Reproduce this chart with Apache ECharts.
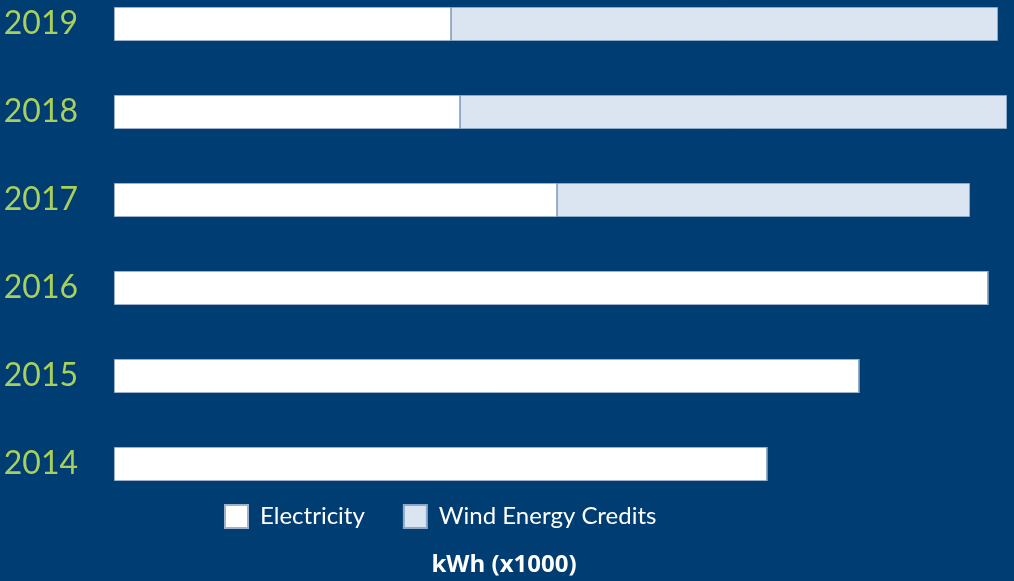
<!DOCTYPE html>
<html>
<head>
<meta charset="utf-8">
<script src="https://cdn.jsdelivr.net/npm/echarts@6/dist/echarts.min.js"></script>
<style>
  html, body { margin: 0; padding: 0; background: #003d73; overflow: hidden; }
  #chart { width: 1014px; height: 601px; margin-top: -20px; }
</style>
</head>
<body>
<div id="chart"></div>
<script>
// years, bottom to top
var years = ['2014', '2015', '2016', '2017', '2018', '2019'];
// kWh (x1000)
var electricity = [2612, 2980, 3496, 1772, 1384, 1348];
var windCredits = [0, 0, 0, 1652, 2188, 2188];

var chart = echarts.init(document.getElementById('chart'));

// the div is shifted up 20px so the top bar sits close to the edge
var option = {
    backgroundColor: '#003d73',
    textStyle: { fontFamily: 'Lato, "Open Sans", sans-serif' },
    title: {
        text: 'kWh (x1000)',
        left: 499,
        textAlign: 'center',
        top: 568,
        textStyle: { color: '#ffffff', fontSize: 24, fontWeight: 'bold', fontFamily: '"Open Sans", sans-serif' }
    },
    legend: {
        left: 219,
        top: 519,
        itemWidth: 23,
        itemHeight: 23,
        itemGap: 38,
        textStyle: { color: '#ffffff', fontSize: 24, padding: [0, 0, 0, 7] },
        data: [
            { name: 'Electricity', icon: 'rect' },
            { name: 'Wind Energy Credits', icon: 'rect' }
        ]
    },
    grid: { left: 114, right: 7, top: 0, bottom: 73 },
    xAxis: {
        type: 'value',
        min: 0,
        max: 3572,
        show: false
    },
    yAxis: {
        type: 'category',
        data: years,
        axisLine: { show: false },
        axisTick: { show: false },
        axisLabel: { color: '#a9d05c', fontSize: 32, margin: 36 }
    },
    series: [
        {
            name: 'Electricity',
            type: 'bar',
            stack: 'total',
            barWidth: 34,
            data: electricity,
            itemStyle: { color: '#ffffff', borderColor: '#9fb4cc', borderWidth: 1 }
        },
        {
            name: 'Wind Energy Credits',
            type: 'bar',
            stack: 'total',
            barWidth: 34,
            data: windCredits,
            itemStyle: { color: '#dbe4f1', borderColor: '#8ea9c8', borderWidth: 1 }
        }
    ]
};

chart.setOption(option);
</script>
</body>
</html>
